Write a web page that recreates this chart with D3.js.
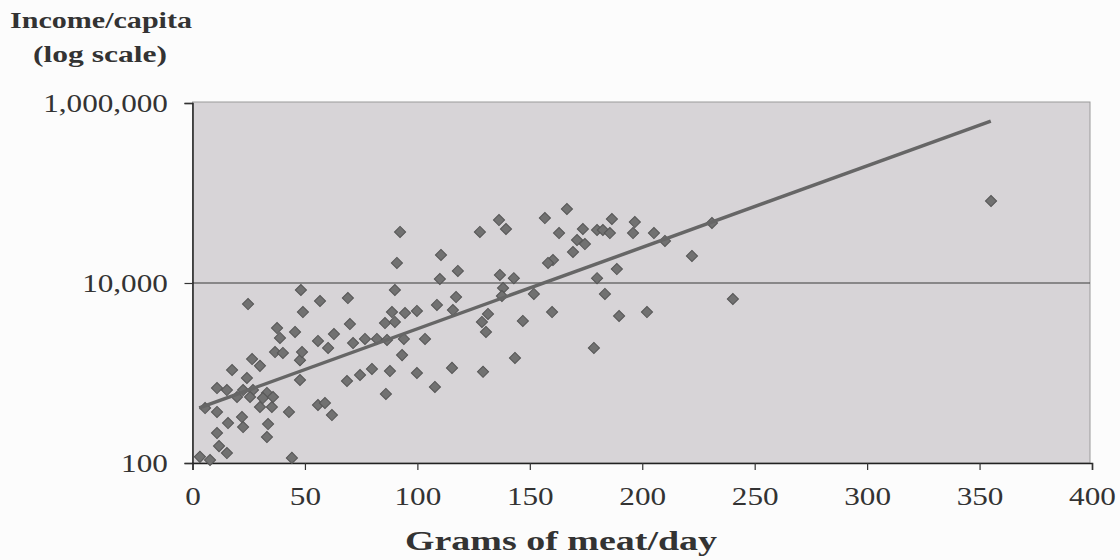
<!DOCTYPE html>
<html lang="en">
<head>
<meta charset="UTF-8">
<title>Income vs meat</title>
<script src="https://cdnjs.cloudflare.com/ajax/libs/d3/7.8.5/d3.min.js"></script>
<style>
  body { margin: 0; background: #fcfcfc; }
  text { font-family: "Liberation Serif", "Times New Roman", serif; fill: #333; }
</style>
</head>
<body>
<div id="chart"></div>
<script>
// grams of meat per day, one entry per country
var meat = [
  3.3, 7.8, 11.8, 15.3, 10.9, 15.8, 22.0, 22.5, 33.6, 33.1,
  44.2, 5.6, 10.9, 30.0, 35.3, 42.9, 10.9, 15.3, 22.5, 26.9,
  33.1, 19.8, 25.6, 31.3, 35.8, 17.6, 24.2, 26.5, 30.0, 47.8,
  47.8, 36.7, 40.2, 48.7, 37.6, 45.6, 38.9, 24.7, 48.2, 49.1,
  56.7, 69.1, 55.8, 62.9, 60.3, 70.0, 71.4, 76.7, 82.0, 86.5,
  94.0, 103.4, 85.6, 90.0, 88.7, 94.5, 99.8, 108.7, 117.2, 115.8,
  90.0, 110.0, 93.2, 68.7, 74.5, 79.8, 87.8, 99.8, 115.4, 107.8,
  86.0, 55.8, 58.9, 62.0, 92.3, 127.8, 110.5, 90.9, 118.0, 136.3,
  139.4, 156.7, 166.5, 163.0, 173.6, 171.0, 174.5, 169.2, 160.3, 158.1,
  136.7, 142.9, 179.9, 138.1, 137.6, 151.8, 131.4, 128.7, 159.9, 146.9,
  130.5, 143.4, 129.2, 178.5, 179.9, 186.5, 196.7, 182.5, 185.6, 195.9,
  205.2, 210.1, 231.0, 222.1, 188.7, 183.4, 189.7, 202.1, 240.3, 355.1
];
// income per capita, same order
var income = [
  117, 108, 154, 129, 215, 278, 324, 251, 271, 194,
  114, 408, 369, 419, 419, 369, 681, 647, 647, 647,
  600, 541, 541, 527, 541, 1080, 880, 1430, 1200, 836,
  1390, 1710, 1670, 1710, 3160, 2860, 2450, 5840, 8360, 4760,
  6310, 6810, 2270, 2710, 1900, 3500, 2150, 2390, 2390, 2330,
  2390, 2390, 3590, 3690, 4760, 4640, 4890, 5700, 6980, 5010,
  8360, 11080, 1580, 815, 950, 1110, 1050, 1000, 1140, 700,
  585, 441, 464, 341, 36900, 36900, 20500, 16700, 13600, 50100,
  39800, 52700, 66400, 35900, 39800, 30000, 27100, 22100, 18000, 16700,
  12300, 11300, 11300, 8800, 7170, 7550, 4530, 3690, 4760, 3790,
  2860, 1470, 1030, 1900, 38800, 51400, 47600, 38800, 35900, 35900,
  35900, 29300, 46400, 20000, 14300, 7550, 4300, 4760, 6640, 81500
];

// exponential trend line end points
var trendX = [3, 355];
var trendY = [410, 630000];

var xTicks = [0, 50, 100, 150, 200, 250, 300, 350, 400];
var yTicks = [100, 10000, 1000000];

var w = 1120, h = 560;
var plotLeft = 192.5, plotRight = 1092, plotTop = 103, plotBottom = 463;

var svg = d3.select("#chart").append("svg")
    .attr("width", w)
    .attr("height", h);

var x = d3.scaleLinear().domain([0, 400]).range([plotLeft, plotRight]);
var y = d3.scaleLog().domain([100, 1000000]).range([plotBottom, plotTop]);

// plot area
svg.append("rect")
    .attr("x", plotLeft)
    .attr("y", plotTop - 1)
    .attr("width", plotRight - plotLeft - 2)
    .attr("height", plotBottom - plotTop + 1)
    .attr("fill", "#d7d4d7")
    .attr("stroke", "#9a9a9a")
    .attr("stroke-width", 1);

// gridline at 10,000
svg.append("line")
    .attr("x1", plotLeft).attr("x2", plotRight - 2)
    .attr("y1", y(10000)).attr("y2", y(10000))
    .attr("stroke", "#3a3a3a")
    .attr("stroke-width", 1.2);

// axes
var yAxis = svg.append("g")
    .attr("transform", "translate(" + plotLeft + ",0)")
    .call(d3.axisLeft(y).tickValues(yTicks).tickFormat(d3.format(",")).tickSize(8).tickPadding(8));

var xAxis = svg.append("g")
    .attr("transform", "translate(0," + plotBottom + ")")
    .call(d3.axisBottom(x).tickValues(xTicks).tickSize(7).tickPadding(17));

[yAxis, xAxis].forEach(function(ax) {
    ax.select(".domain").attr("stroke", "#222").attr("stroke-width", 1.5);
    ax.selectAll(".tick line").attr("stroke", "#333").attr("stroke-width", 1.2);
    ax.selectAll("text")
        .attr("font-family", "Liberation Serif")
        .attr("font-size", 26)
        .attr("fill", "#333");
});
yAxis.selectAll("text").attr("x", -20.5).attr("transform", "scale(1.2,1)");
xAxis.selectAll("text").attr("transform", "scale(1.2,1)");

// markers
var pts = meat.map(function(m, i) { return [m, income[i]]; });
svg.append("g").selectAll("path")
    .data(pts)
    .enter()
    .append("path")
    .attr("d", d3.symbol(d3.symbolSquare, 62))
    .attr("transform", function(d) {
        return "translate(" + x(d[0]) + "," + y(d[1]) + ") rotate(45)";
    })
    .attr("fill", "#717171")
    .attr("stroke", "#555")
    .attr("stroke-width", 1);

// trend line
svg.append("path")
    .datum(trendX.map(function(t, i) { return [t, trendY[i]]; }))
    .attr("fill", "none")
    .attr("stroke", "#666")
    .attr("stroke-width", 3.5)
    .attr("d", d3.line().x(function(d) { return x(d[0]); }).y(function(d) { return y(d[1]); }));

// titles
svg.append("text")
    .attr("x", 101).attr("y", 28)
    .attr("text-anchor", "middle")
    .attr("font-size", 24).attr("font-weight", "bold")
    .attr("textLength", 182).attr("lengthAdjust", "spacingAndGlyphs")
    .text("Income/capita");

svg.append("text")
    .attr("x", 100).attr("y", 62)
    .attr("text-anchor", "middle")
    .attr("font-size", 24).attr("font-weight", "bold")
    .attr("textLength", 134).attr("lengthAdjust", "spacingAndGlyphs")
    .text("(log scale)");

svg.append("text")
    .attr("x", 561).attr("y", 550)
    .attr("text-anchor", "middle")
    .attr("font-size", 27).attr("font-weight", "bold")
    .attr("textLength", 312).attr("lengthAdjust", "spacingAndGlyphs")
    .text("Grams of meat/day");
</script>
</body>
</html>
